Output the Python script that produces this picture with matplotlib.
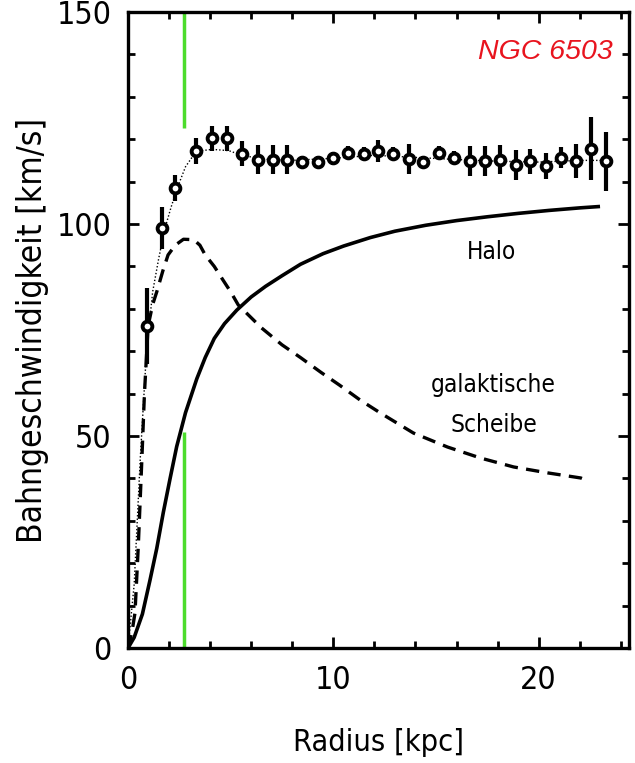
import matplotlib
matplotlib.use("Agg")
import matplotlib.pyplot as plt
from matplotlib.ticker import MultipleLocator

plt.rcParams['font.family'] = ['Liberation Sans Narrow', 'DejaVu Sans']
plt.rcParams['font.stretch'] = 'condensed'

# Observed rotation curve (radius in kpc, velocity and error in km/s)
radius_obs = [0.91, 1.67, 2.29, 3.30, 4.08, 4.81, 5.54, 6.31, 7.04, 7.74,
              8.47, 9.25, 9.98, 10.72, 11.48, 12.17, 12.91, 13.67, 14.37, 15.14,
              15.87, 16.65, 17.37, 18.11, 18.88, 19.58, 20.34, 21.11, 21.80, 22.54,
              23.27]
v_obs = [76.0, 99.0, 108.5, 117.2, 120.2, 120.2, 116.6, 115.2, 115.2, 115.2,
         114.6, 114.6, 115.5, 116.8, 116.6, 117.2, 116.6, 115.4, 114.6, 116.8,
         115.6, 114.8, 114.8, 115.2, 113.9, 114.8, 113.7, 115.6, 114.8, 117.8,
         114.8]
v_err = [9.0, 5.0, 3.0, 3.0, 3.0, 3.0, 3.0, 3.5, 3.5, 3.5,
         1.5, 1.5, 1.5, 1.5, 1.5, 2.5, 1.5, 3.5, 1.5, 1.5,
         1.5, 3.5, 3.5, 3.5, 3.5, 3.0, 3.0, 2.5, 4.0, 7.5,
         7.0]

# Fitted total curve (dotted)
r_total = [0, 0.3, 0.6, 0.9, 1.2, 1.5, 1.8, 2.1, 2.4, 2.8, 3.2, 3.6, 4.1,
           4.9, 5.5, 6.5, 8.0, 10.0, 12.0, 14.0, 16.0, 18.0, 20.0, 22.0, 23.3]
v_total = [0, 15, 45, 70, 84, 92, 99, 104, 108.5, 113.5, 116.3, 117.3, 117.6,
           117.3, 116.3, 115.3, 115.0, 115.5, 116.2, 115.7, 115.2, 114.8, 114.6,
           115.0, 115.0]

# Disc contribution (dashed)
r_disk = [0, 0.2, 0.34, 0.5, 0.67, 0.8, 0.98, 1.2, 1.4, 1.7, 1.95, 2.3, 2.7,
          3.2, 3.5, 3.76, 4.2, 4.57, 5.0, 5.37, 6.5, 7.5, 8.4, 9.4, 10.3, 11.3,
          12.3, 13.9, 15.56, 17.17, 18.78, 20.44, 22.05, 22.2]
v_disk = [0, 4, 8.3, 24, 44, 60, 76, 81, 84, 89, 92.7, 95, 96.4,
          96.3, 95, 92.7, 90, 87.2, 84, 80.9, 75.5, 71.5, 68.5, 65, 62, 58.5,
          55.4, 50.7, 47.4, 44.8, 42.7, 41.3, 40.1, 39.8]

# Halo contribution (solid)
r_halo = [0, 0.3, 0.7, 1.07, 1.4, 1.72, 2.05, 2.37, 2.8, 3.35, 3.76, 4.2,
          4.7, 5.3, 6.0, 6.7, 7.5, 8.4, 9.5, 10.5, 11.8, 13.0, 14.5, 16.0,
          17.5, 19.0, 20.5, 22.0, 22.9]
v_halo = [0, 2.5, 8, 16, 23.5, 32, 40, 47.5, 55.5, 63.5, 68.5, 73,
          76.5, 79.7, 82.8, 85.3, 87.8, 90.5, 93, 94.8, 96.8, 98.3, 99.7, 100.8,
          101.7, 102.5, 103.2, 103.8, 104.1]

marker_x = 2.73
marker_segments = [(0, 51), (122.6, 150)]

fig = plt.figure(figsize=(6.35, 7.63), dpi=100)
ax = fig.add_axes([0.2016, 0.1507, 0.789, 0.8336])

ax.plot(r_total, v_total, ls=(0, (1, 1.5)), color='black', lw=1.0)
ax.plot(r_disk, v_disk, ls=(0, (4, 2.5)), color='black', lw=2.4)
ax.plot(r_halo, v_halo, ls='-', color='black', lw=2.6)
ax.errorbar(radius_obs, v_obs, yerr=v_err, fmt='o', ms=7, mfc='white',
            mec='black', mew=2.8, ecolor='black', elinewidth=3, capsize=0)

for lo, hi in marker_segments:
    ax.vlines(marker_x, lo, hi, color='#4cdc2c', lw=2.5)

ax.text(17.7, 93.4, 'Halo', ha='center', va='center', fontsize=17.5)
ax.text(17.8, 62.0, 'galaktische', ha='center', va='center', fontsize=17.5)
ax.text(17.8, 52.6, 'Scheibe', ha='center', va='center', fontsize=17.5)
ax.text(23.6, 140.6, 'NGC 6503', ha='right', va='center', fontsize=20.5,
        color='#e8141e', style='italic', stretch='normal',
        family=['Liberation Sans', 'DejaVu Sans'])

ax.set_xlim(0, 24.4)
ax.set_ylim(0, 150)
ax.xaxis.set_major_locator(MultipleLocator(10))
ax.xaxis.set_minor_locator(MultipleLocator(2))
ax.yaxis.set_major_locator(MultipleLocator(50))
ax.yaxis.set_minor_locator(MultipleLocator(10))
ax.tick_params(which='both', direction='in', top=True, right=True, width=2)
ax.tick_params(which='major', length=8, labelsize=23)
ax.tick_params(which='minor', length=5)
ax.tick_params(axis='x', pad=12)
ax.tick_params(axis='y', pad=12)
for s in ax.spines.values():
    s.set_linewidth(2.4)

ax.set_xlabel('Radius [kpc]', fontsize=22, labelpad=23)
ax.set_ylabel('Bahngeschwindigkeit [km/s]', fontsize=24, labelpad=5)

fig.savefig('out.png', dpi=100)
